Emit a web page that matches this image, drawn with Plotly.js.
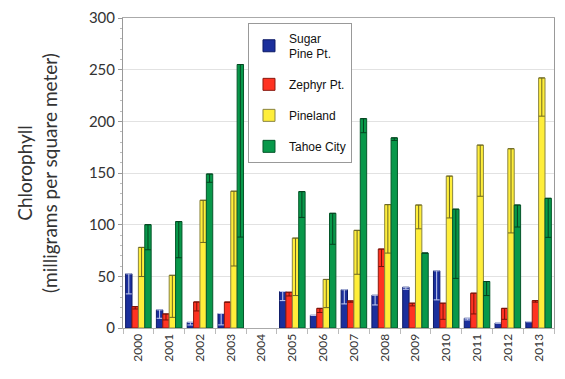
<!DOCTYPE html>
<html><head><meta charset="utf-8">
<script src="https://cdn.plot.ly/plotly-3.0.1.min.js"></script>
<style>body{margin:0;padding:0;background:#fff}#chart{width:565px;height:379px}</style>
</head><body><div id="chart"></div>
<script>
const years = ['2000','2001','2002','2003','2004','2005','2006','2007','2008','2009','2010','2011','2012','2013'];
const seriesNames = ['Sugar<br>Pine Pt.', 'Zephyr Pt.', 'Pineland', 'Tahoe City'];
// bar tops (upper value) and inner line (lower value)
const sugarTop   = [52.4, 17.5, 5.5, 14, null, 35.3, 12.3, 37, 31.7, 39.5, 55.3, 9.4, 4.8, 6.1];
const sugarLow   = [33, 9.4, 2.9, 3, null, 26.5, 12.3, 23.3, 22.3, 37.5, 27.2, 7.8, 4.8, 6.1];
const zephyrTop  = [20.7, 13.6, 25.2, 25, null, 34.6, 19, 26.2, 76.4, 24, 24, 33.7, 19, 26.5];
const zephyrLow  = [18.4, 7.8, 16.5, 25, null, 31, 15, 24.9, 59.5, 21.4, 8.4, 13.6, 8.4, 25];
const pinelandTop= [78, 51, 123.6, 132.4, null, 87, 47, 94.5, 119.4, 119, 147, 177, 173.5, 242];
const pinelandLow= [49.8, 10.3, 82.8, 60, null, 31.4, 19.7, 52, 72.5, 96, 106.5, 127.5, 92, 205];
const tahoeTop   = [100, 103, 149, 255, null, 132, 111, 202.6, 184, 72.5, 115, 45, 119, 125.5];
const tahoeLow   = [75.7, 68, 141, 88, null, 107, 81, 189, 181.5, 72.5, 48, 31.4, 97.7, 87.7];

const fills = ['#1b2f9c', '#ff3322', '#ffee3a', '#08984a'];
const edges = ['#0d1a66', '#8a1a10', '#8a8440', '#05572a'];
const errCols = ['#c8d0f0', '#7a1208', '#6b6620', '#04441f'];
const tops = [sugarTop, zephyrTop, pinelandTop, tahoeTop];
const lows = [sugarLow, zephyrLow, pinelandLow, tahoeLow];

const traces = tops.map((t, i) => ({
  type: 'bar', x: years, y: t, name: seriesNames[i], legendgroup: 'g' + i,
  marker: {color: fills[i], line: {color: edges[i], width: 1}},
  error_y: {type: 'data', symmetric: false,
    array: t.map(() => 0),
    arrayminus: t.map((v, k) => v == null ? null : v - lows[i][k]),
    color: errCols[i], thickness: 1, width: 3},
  hoverinfo: 'skip'
}));

const layout = {
  width: 565, height: 379,
  margin: {l: 123, r: 11, t: 18, b: 51},
  paper_bgcolor: '#fff', plot_bgcolor: '#fff',
  barmode: 'group', bargap: 0.17, bargroupgap: 0,
  font: {family: 'Lato, sans-serif', color: '#333'},
  xaxis: {
    type: 'category', tickangle: -90, tickson: 'boundaries',
    ticks: 'outside', ticklen: 5, tickcolor: '#bbb',
    showline: true, linecolor: '#aaa', mirror: true,
    tickfont: {family: 'Lato, sans-serif', size: 12, color: '#333'},
    showgrid: false
  },
  yaxis: {
    range: [0, 300], dtick: 50, ticks: 'outside', ticklen: 4, tickcolor: '#999',
    showline: true, linecolor: '#999', mirror: true,
    gridcolor: '#e2e2e2', zeroline: false,
    minor: {dtick: 10, ticks: 'outside', ticklen: 2, tickcolor: '#bbb', showgrid: false},
    tickfont: {family: 'Lato, sans-serif', size: 15, color: '#333'},
    title: {text: 'Chlorophyll<br>(milligrams per square meter)', standoff: 26,
      font: {family: 'Lato, sans-serif', size: 19, color: '#333'}}
  },
  legend: {
    x: 0.29, y: 0.985, xanchor: 'left', yanchor: 'top',
    bordercolor: '#999', borderwidth: 1, bgcolor: '#fff',
    font: {family: 'Liberation Sans, Arial, sans-serif', size: 12, color: '#111'},
    tracegroupgap: 12, itemwidth: 30
  },
  showlegend: true
};

Plotly.newPlot('chart', traces, layout, {displayModeBar: false, staticPlot: true});
</script></body></html>
